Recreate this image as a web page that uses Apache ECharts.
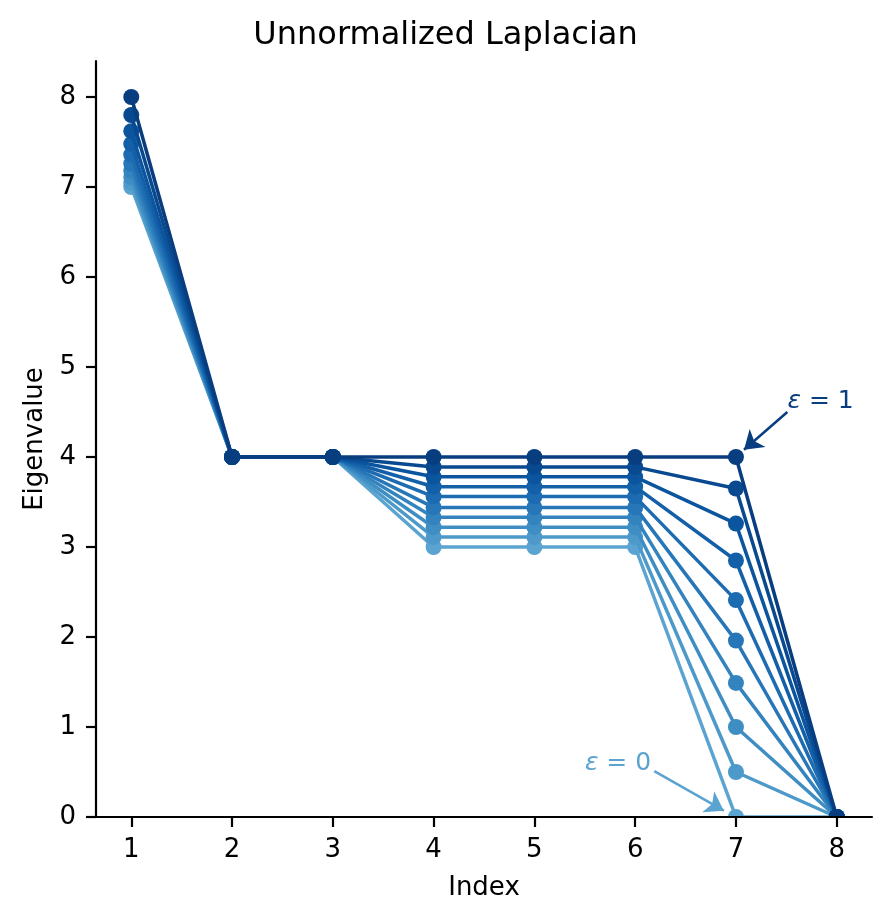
<!DOCTYPE html>
<html>
<head>
<meta charset="utf-8">
<script src="https://cdn.jsdelivr.net/npm/echarts@6/dist/echarts.min.js"></script>
<style>
html,body{margin:0;padding:0;background:#fff;}
#chart{width:891px;height:924px;}
</style>
</head>
<body>
<div id="chart"></div>
<script>
// epsilon levels k/9, k = 0..9
const epsLabels = ['0','1/9','2/9','3/9','4/9','5/9','6/9','7/9','8/9','1'];
const indexCats = [1, 2, 3, 4, 5, 6, 7, 8];
// eigenvalue at index 1 for each epsilon
const eig1 = [7.00, 7.05, 7.11, 7.18, 7.26, 7.36, 7.48, 7.62, 7.80, 8.00];
// eigenvalues at index 2 and 3
const eig2 = [4, 4, 4, 4, 4, 4, 4, 4, 4, 4];
const eig3 = [4, 4, 4, 4, 4, 4, 4, 4, 4, 4];
// eigenvalues at index 4, 5, 6 (equal)
const eig456 = [3.00, 3.11, 3.22, 3.33, 3.44, 3.56, 3.67, 3.78, 3.89, 4.00];
// eigenvalue at index 7
const eig7 = [0.00, 0.50, 1.00, 1.49, 1.96, 2.41, 2.85, 3.26, 3.65, 4.00];
// eigenvalue at index 8
const eig8 = [0, 0, 0, 0, 0, 0, 0, 0, 0, 0];
const yTicks = [0, 1, 2, 3, 4, 5, 6, 7, 8];

// matplotlib Blues colormap nodes
const bluesNodes = [
  [0.0, [247,251,255]], [0.125, [222,235,247]], [0.25, [198,219,239]],
  [0.375, [158,202,225]], [0.5, [107,174,214]], [0.625, [66,146,198]],
  [0.75, [33,113,181]], [0.875, [8,81,156]], [1.0, [8,48,107]]
];
function blues(t) {
  for (let i = 0; i < bluesNodes.length - 1; i++) {
    const [t0, c0] = bluesNodes[i], [t1, c1] = bluesNodes[i + 1];
    if (t >= t0 && t <= t1) {
      const f = (t - t0) / (t1 - t0);
      const c = c0.map((v, j) => Math.round(v + f * (c1[j] - v)));
      return 'rgb(' + c.join(',') + ')';
    }
  }
  return 'rgb(8,48,107)';
}
const n = epsLabels.length;
const colors = epsLabels.map((_, k) => blues(0.55 + 0.4 * k / (n - 1)));

const FONT = 'DejaVu Sans';
const series = [];
for (let k = 0; k < n; k++) {
  const vals = [eig1[k], eig2[k], eig3[k], eig456[k], eig456[k], eig456[k], eig7[k], eig8[k]];
  series.push({
    type: 'line',
    name: 'eps=' + epsLabels[k],
    data: indexCats.map((x, i) => [x, vals[i]]),
    symbol: 'circle',
    symbolSize: 16,
    showSymbol: true,
    clip: false,
    z: 2 + k * 0.01,
    lineStyle: { color: colors[k], width: 3.5 },
    itemStyle: { color: colors[k] },
    emphasis: { disabled: true },
    animation: false
  });
}
const darkC = colors[n - 1], lightC = colors[0];
// annotation arrows (data coordinates)
series.push({
  type: 'lines', coordinateSystem: 'cartesian2d', polyline: false,
  symbol: ['none', 'arrow'], symbolSize: 18, z: 3, animation: false,
  lineStyle: { color: darkC, width: 2.5, opacity: 1, curveness: 0 },
  data: [{ coords: [[7.51, 4.50], [7.08, 4.08]] }]
});
series.push({
  type: 'lines', coordinateSystem: 'cartesian2d', polyline: false,
  symbol: ['none', 'arrow'], symbolSize: 18, z: 3, animation: false,
  lineStyle: { color: lightC, width: 2.5, opacity: 1, curveness: 0 },
  data: [{ coords: [[6.19, 0.51], [6.88, 0.07]] }]
});

const chart = echarts.init(document.getElementById('chart'), null, { renderer: 'canvas' });
const gridL = 96, gridR = 19, gridT = 61, gridB = 107;
chart.setOption({
  animation: false,
  backgroundColor: '#ffffff',
  textStyle: { fontFamily: FONT },
  title: {
    text: 'Unnormalized Laplacian', left: 'center', top: 20, padding: 0,
    textStyle: { fontFamily: FONT, fontSize: 32, fontWeight: 'normal', color: '#000' }
  },
  grid: { left: gridL, right: gridR, top: gridT, bottom: gridB, containLabel: false },
  xAxis: {
    type: 'value', min: 0.65, max: 8.35, z: 10,
    name: 'Index', nameLocation: 'middle', nameGap: 58,
    nameTextStyle: { fontFamily: FONT, fontSize: 26, color: '#000' },
    axisLine: { show: true, onZero: false, lineStyle: { color: '#000', width: 2.2 } },
    axisTick: { show: true, length: 10, lineStyle: { color: '#000', width: 2.2 }, customValues: indexCats },
    axisLabel: { fontFamily: FONT, fontSize: 26, color: '#000', margin: 20, customValues: indexCats },
    splitLine: { show: false }
  },
  yAxis: {
    type: 'value', min: 0, max: 8.4, z: 10,
    name: 'Eigenvalue', nameLocation: 'middle', nameGap: 46, nameRotate: 90,
    nameTextStyle: { fontFamily: FONT, fontSize: 26, color: '#000' },
    axisLine: { show: true, lineStyle: { color: '#000', width: 2.2 } },
    axisTick: { show: true, length: 10, lineStyle: { color: '#000', width: 2.2 }, customValues: yTicks },
    axisLabel: { fontFamily: FONT, fontSize: 26, color: '#000', margin: 20, customValues: yTicks },
    splitLine: { show: false }
  },
  series: series
});

const p1 = chart.convertToPixel({ gridIndex: 0 }, [7.84, 4.62]);
const p0 = chart.convertToPixel({ gridIndex: 0 }, [5.83, 0.60]);
function annText(pos, num, color) {
  return {
    type: 'text', x: pos[0], y: pos[1], z: 20,
    style: {
      text: '{i|ε} = ' + num, align: 'center', verticalAlign: 'middle',
      fontFamily: FONT, fontSize: 25, fill: color,
      rich: {
        i: { fontFamily: FONT, fontStyle: 'italic', fontSize: 25, color: color }
      }
    }
  };
}
chart.setOption({
  graphic: [
    // mask below the bottom spine so markers at zero appear clipped by the axes
    { type: 'rect', z: 5, silent: true,
      shape: { x: gridL - 12, y: 924 - gridB + 1, width: 891 - gridL - gridR + 24, height: 14 },
      style: { fill: '#ffffff' } },
    annText(p1, '1', darkC),
    annText(p0, '0', lightC)
  ]
});
</script>
</body>
</html>
